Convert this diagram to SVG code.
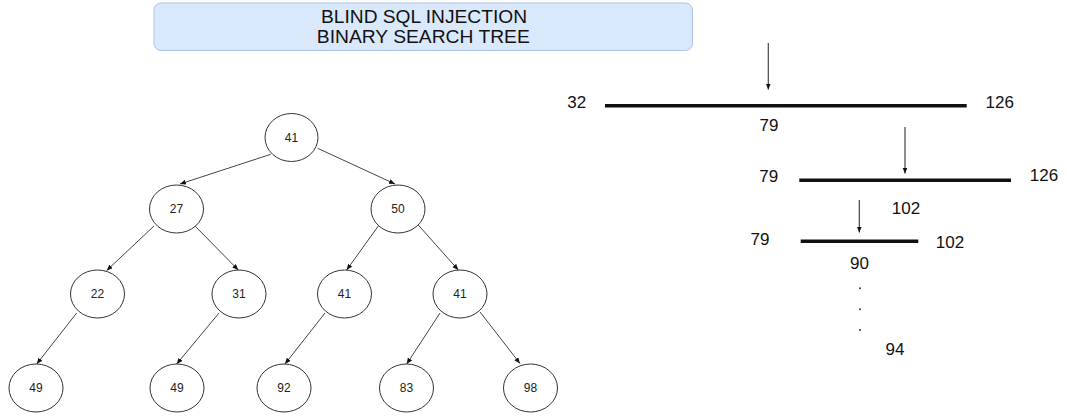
<svg xmlns="http://www.w3.org/2000/svg" width="1067" height="416" viewBox="0 0 1067 416">
  <style>
    .title { font-family: "Liberation Sans", Arial, sans-serif; font-size: 18px; fill: #111; text-anchor: middle; }
    .node ellipse { fill: #fff; stroke: #333; stroke-width: 1; }
    .node text { font-family: "Liberation Sans", Arial, sans-serif; font-size: 12px; fill: #222; text-anchor: middle; }
    .edge { stroke: #444; stroke-width: 1; fill: none; marker-end: url(#arrow); }
    .num { font-family: "Liberation Sans", Arial, sans-serif; font-size: 17px; fill: #111; text-anchor: middle; }
    .bar { stroke: #111; stroke-width: 3.5; }
    .down { stroke: #444; stroke-width: 1.2; fill: none; marker-end: url(#arrow); }
  </style>
  <defs>
    <marker id="arrow" markerUnits="userSpaceOnUse" markerWidth="7" markerHeight="6" refX="6" refY="2.5" orient="auto">
      <path d="M0,0 L6,2.5 L0,5 Z" fill="#111"/>
    </marker>
  </defs>

  <rect width="1067" height="416" fill="#fff"/>

  <!-- heading -->
  <g id="title">
    <rect x="154" y="3" width="538.5" height="47.5" rx="7" ry="7" fill="#dae8fc" stroke="#a9c4e6" stroke-width="1"/>
    <text class="title" x="424" y="22.5" textLength="206" lengthAdjust="spacingAndGlyphs">BLIND SQL INJECTION</text>
    <text class="title" x="423.3" y="43.2" textLength="213" lengthAdjust="spacingAndGlyphs">BINARY SEARCH TREE</text>
  </g>

  <!-- tree links -->
  <g id="connectors">
    <line class="edge" x1="270.7" y1="154.3" x2="180" y2="184"/>
    <line class="edge" x1="317.7" y1="148.3" x2="395" y2="184"/>
    <line class="edge" x1="154" y1="226" x2="106.7" y2="270.5"/>
    <line class="edge" x1="195" y1="226" x2="238.3" y2="270"/>
    <line class="edge" x1="378.3" y1="226" x2="346.7" y2="270"/>
    <line class="edge" x1="418.3" y1="225" x2="458.3" y2="270"/>
    <line class="edge" x1="76.7" y1="313" x2="36.7" y2="364"/>
    <line class="edge" x1="219" y1="313" x2="176.7" y2="364"/>
    <line class="edge" x1="325" y1="313" x2="285" y2="364"/>
    <line class="edge" x1="440" y1="313" x2="406.7" y2="364"/>
    <line class="edge" x1="480" y1="312" x2="520" y2="363.5"/>
  </g>

  <!-- tree nodes -->
  <g id="n-root" class="node"><ellipse cx="291.5" cy="137.5" rx="26.5" ry="24"/><text x="291.5" y="141.8">41</text></g>
  <g id="n-27" class="node"><ellipse cx="176.5" cy="209" rx="27" ry="24"/><text x="176.5" y="213.3">27</text></g>
  <g id="n-50" class="node"><ellipse cx="398" cy="209" rx="27" ry="24"/><text x="398" y="213.3">50</text></g>
  <g id="n-22" class="node"><ellipse cx="97.5" cy="294" rx="27" ry="24"/><text x="97.5" y="298.3">22</text></g>
  <g id="n-31" class="node"><ellipse cx="239" cy="294" rx="27" ry="24"/><text x="239" y="298.3">31</text></g>
  <g id="n-41a" class="node"><ellipse cx="344.5" cy="294" rx="27" ry="24"/><text x="344.5" y="298.3">41</text></g>
  <g id="n-41b" class="node"><ellipse cx="460" cy="294" rx="27" ry="24"/><text x="460" y="298.3">41</text></g>
  <g id="n-49a" class="node"><ellipse cx="36" cy="388" rx="27" ry="24"/><text x="36" y="392.3">49</text></g>
  <g id="n-49b" class="node"><ellipse cx="177" cy="388" rx="27" ry="24"/><text x="177" y="392.3">49</text></g>
  <g id="n-92" class="node"><ellipse cx="284" cy="388" rx="27" ry="24"/><text x="284" y="392.3">92</text></g>
  <g id="n-83" class="node"><ellipse cx="406.5" cy="388" rx="27" ry="24"/><text x="406.5" y="392.3">83</text></g>
  <g id="n-98" class="node"><ellipse cx="530.5" cy="388" rx="27" ry="24"/><text x="530.5" y="392.3">98</text></g>

  <!-- interval halving -->
  <g id="range-1">
    <line class="down" x1="768.3" y1="43" x2="768.3" y2="89.5"/>
    <line class="bar" x1="605" y1="105.7" x2="966.7" y2="105.7"/>
    <text class="num" x="576.7" y="108">32</text>
    <text class="num" x="999.7" y="108.3">126</text>
    <text class="num" x="769" y="131">79</text>
  </g>
  <g id="range-2">
    <line class="down" x1="905" y1="127" x2="905" y2="173.5"/>
    <line class="bar" x1="799.3" y1="180.3" x2="1011" y2="180.3"/>
    <text class="num" x="768.8" y="182">79</text>
    <text class="num" x="1044" y="180.5">126</text>
    <text class="num" x="906" y="214">102</text>
  </g>
  <g id="range-3">
    <line class="down" x1="859.3" y1="200" x2="859.3" y2="232.5"/>
    <line class="bar" x1="800.7" y1="241.3" x2="918.3" y2="241.3"/>
    <text class="num" x="760" y="245.3">79</text>
    <text class="num" x="950" y="247.7">102</text>
    <text class="num" x="859.5" y="269.3">90</text>
  </g>
  <g id="result">
    <circle cx="860" cy="288.3" r="1" fill="#333"/>
    <circle cx="860" cy="309.3" r="1" fill="#333"/>
    <circle cx="860" cy="330" r="1" fill="#333"/>
    <text class="num" x="895" y="355">94</text>
  </g>
</svg>
